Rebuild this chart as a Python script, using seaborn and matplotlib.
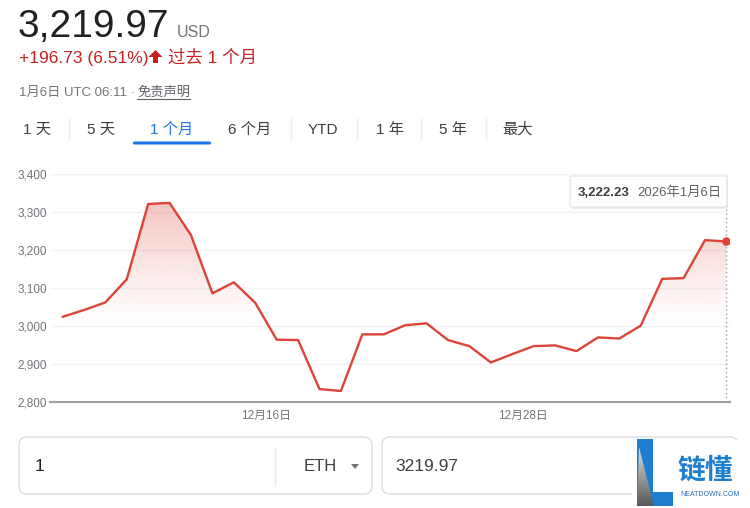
import numpy as np
import pandas as pd
import matplotlib
matplotlib.use('Agg')
import matplotlib.pyplot as plt
import matplotlib.dates as mdates
from matplotlib.patches import FancyBboxPatch, Polygon, Rectangle
import seaborn as sns

# ---------------- data ----------------
prices = [3024, 3042, 3062, 3123, 3321, 3324, 3239, 3086, 3115, 3061,
          2964, 2963, 2834, 2829, 2978, 2978, 3002, 3007, 2963, 2947,
          2904, 2926, 2947, 2949, 2934, 2970, 2967, 3001, 3124, 3126,
          3226, 3222.23]
dates = pd.date_range('2025-12-06 12:00', periods=len(prices), freq='D')
y_ticks = [2800, 2900, 3000, 3100, 3200, 3300, 3400]
x_tick_dates = pd.to_datetime(['2025-12-16', '2025-12-28'])
x_tick_labels = ['12月16日', '12月28日']
range_tabs = ['1 天', '5 天', '1 个月', '6 个月', 'YTD', '1 年', '5 年', '最大']
active_tab = '1 个月'
price_text = '3,219.97'
currency = 'USD'
change_text = '+196.73 (6.51%)'
period_text = '过去 1 个月'
time_text = '1月6日 UTC 06:11 · '
disclaimer = '免责声明'
tooltip_value = '3,222.23'
tooltip_date = '2026年1月6日'
amount_in = '1'
coin = 'ETH'
amount_out = '3219.97'

# ---------------- style ----------------
sns.set_theme(style='white')
plt.rcParams['font.family'] = ['Liberation Sans', 'Noto Sans CJK SC', 'DejaVu Sans']
RED = '#db4437'
RED_TXT = '#c5221f'
GRAY = '#70757a'
DARK = '#202124'
BLUE = '#1a73e8'

W, H = 750, 508
fig = plt.figure(figsize=(W / 100, H / 100), dpi=100)
fig.patch.set_facecolor('white')

# ---------------- chart ----------------
ax = fig.add_axes([50 / W, 1 - 402 / H, 680 / W, 228 / H])
df = pd.DataFrame({'date': dates, 'price': prices})

xnum = mdates.date2num(dates)
poly = ax.fill_between(dates, prices, 2800, color='none', lw=0)
grad = np.zeros((256, 1, 4))
yy = np.linspace(3400, 2800, 256)
rgb = matplotlib.colors.to_rgb(RED)
grad[:, 0, 0], grad[:, 0, 1], grad[:, 0, 2] = rgb
grad[:, 0, 3] = np.clip((yy - 3000) / (3330 - 3000), 0, 1) ** 1.2 * 0.32
im = ax.imshow(grad, extent=[xnum[0], xnum[-1], 2800, 3400], aspect='auto',
               origin='upper', zorder=1, interpolation='bilinear')
im.set_clip_path(poly.get_paths()[0], transform=ax.transData)

ax.axvline(dates[-1], color='#9aa0a6', ls=(0, (1, 2)), lw=1, zorder=2)
sns.lineplot(data=df, x='date', y='price', ax=ax, color=RED, linewidth=1.7, zorder=3)
sns.scatterplot(x=[dates[-1]], y=[prices[-1]], ax=ax, color=RED, s=38,
                edgecolor='none', zorder=4)

ax.set_xlim(dates[0] - pd.Timedelta(hours=14), dates[-1] + pd.Timedelta(hours=4))
ax.set_ylim(2800, 3400)
ax.set_yticks(y_ticks)
ax.set_yticklabels([f'{v:,}' for v in y_ticks])
ax.set_xticks(x_tick_dates)
ax.set_xticklabels(x_tick_labels)
ax.grid(axis='y', color='#f1f3f4', lw=1)
ax.set_axisbelow(True)
for s in ['left', 'right', 'top']:
    ax.spines[s].set_visible(False)
ax.spines['bottom'].set_color('#9aa0a6')
ax.spines['bottom'].set_linewidth(1.5)
ax.tick_params(axis='y', length=0, labelsize=8.5, labelcolor=GRAY, pad=2)
ax.tick_params(axis='x', direction='inout', length=7, width=1, color='#9aa0a6',
               labelsize=8.5, labelcolor=GRAY, pad=2)
ax.set_xlabel('')
ax.set_ylabel('')
ax.patch.set_alpha(0)

# ---------------- overlay (pixel coordinates) ----------------
ov = fig.add_axes([0, 0, 1, 1], zorder=10)
ov.set_xlim(0, W)
ov.set_ylim(H, 0)
ov.axis('off')
ov.patch.set_alpha(0)

# header
ov.text(18, 37, price_text, fontsize=28, color=DARK, va='baseline')
ov.text(177, 37, currency, fontsize=11.5, color=GRAY, va='baseline')
ov.text(19, 63, change_text, fontsize=12.5, color=RED_TXT, va='baseline')
ov.add_patch(Polygon([(148.5, 57), (155.5, 50), (162.5, 57), (158, 57), (158, 63),
                      (153, 63), (153, 57)], closed=True, fc=RED_TXT, ec='none'))
ov.text(168, 63, period_text, fontsize=12.5, color=RED_TXT, va='baseline')
ov.text(19, 96, time_text, fontsize=9.5, color=GRAY, va='baseline')
ov.text(137, 96, disclaimer, fontsize=9.5, color='#5f6368', va='baseline')
ov.plot([137, 190], [98.5, 98.5], color='#5f6368', lw=0.8)

# tabs
tab_x = [37, 101, 172, 250, 323, 390, 453, 518]
for lbl, x in zip(range_tabs, tab_x):
    ov.text(x, 134, lbl, fontsize=11, ha='center', va='baseline',
            color=BLUE if lbl == active_tab else '#3c4043')
for x in [69, 291, 357, 421, 486]:
    ov.plot([x, x], [118, 140], color='#eeeeee', lw=1)
ov.add_patch(FancyBboxPatch((133, 141.5), 78, 3, boxstyle='round,pad=0,rounding_size=1.5',
                            fc=BLUE, ec='none'))

# tooltip
ov.add_patch(FancyBboxPatch((571, 178), 157, 31, boxstyle='round,pad=0,rounding_size=2',
                            fc='black', ec='none', alpha=0.07))
ov.add_patch(FancyBboxPatch((570, 176), 157, 31, boxstyle='round,pad=0,rounding_size=2',
                            fc='white', ec='#e3e3e3', lw=0.8))
ov.text(578, 196, tooltip_value, fontsize=9.5, color='#3c4043', va='baseline',
        fontweight='bold')
ov.text(637, 196, tooltip_date, fontsize=9.5, color='#5f6368', va='baseline')

# converter boxes
ov.add_patch(FancyBboxPatch((19, 437), 353, 57, boxstyle='round,pad=0,rounding_size=8',
                            fc='white', ec='#dadce0', lw=1))
ov.add_patch(FancyBboxPatch((382, 437), 356, 57, boxstyle='round,pad=0,rounding_size=8',
                            fc='white', ec='#dadce0', lw=1))
ov.plot([275, 275], [447, 485], color='#e8eaed', lw=1)
ov.text(35, 471, amount_in, fontsize=12.5, color=DARK, va='baseline')
ov.text(304, 471, coin, fontsize=12, color='#3c4043', va='baseline')
ov.add_patch(Polygon([(351, 464), (359, 464), (355, 469)], closed=True, fc=GRAY, ec='none'))
ov.text(395, 471, amount_out, fontsize=12.5, color='#3c4043', va='baseline')

# logo
ov.add_patch(Rectangle((632, 440), 118, 68, fc='white', ec='none'))
LBLUE = '#1e7fd0'
ov.add_patch(Rectangle((637, 439), 16, 67, fc=LBLUE, ec='none'))
ov.add_patch(Rectangle((653, 492), 20, 14, fc=LBLUE, ec='none'))
tri = Polygon([(639, 447), (637, 506), (654, 506)], closed=True, fc='none', ec='none')
ov.add_patch(tri)
g = np.linspace(0.88, 0.35, 64)
gimg = np.dstack([g, g, g])[:, None, :].reshape(64, 1, 3)
gi = ov.imshow(gimg, extent=[636, 655, 506, 446], aspect='auto', zorder=5,
               interpolation='bilinear')
gi.set_clip_path(tri)
ov.set_xlim(0, W)
ov.set_ylim(H, 0)
ov.text(677, 479, '链懂', fontsize=20, color=LBLUE, va='baseline', fontweight='bold')
ov.text(680, 496, 'NEATDOWN.COM', fontsize=5, color='#2a6fb0', va='baseline')

fig.savefig('out.png', dpi=100, facecolor='white')
